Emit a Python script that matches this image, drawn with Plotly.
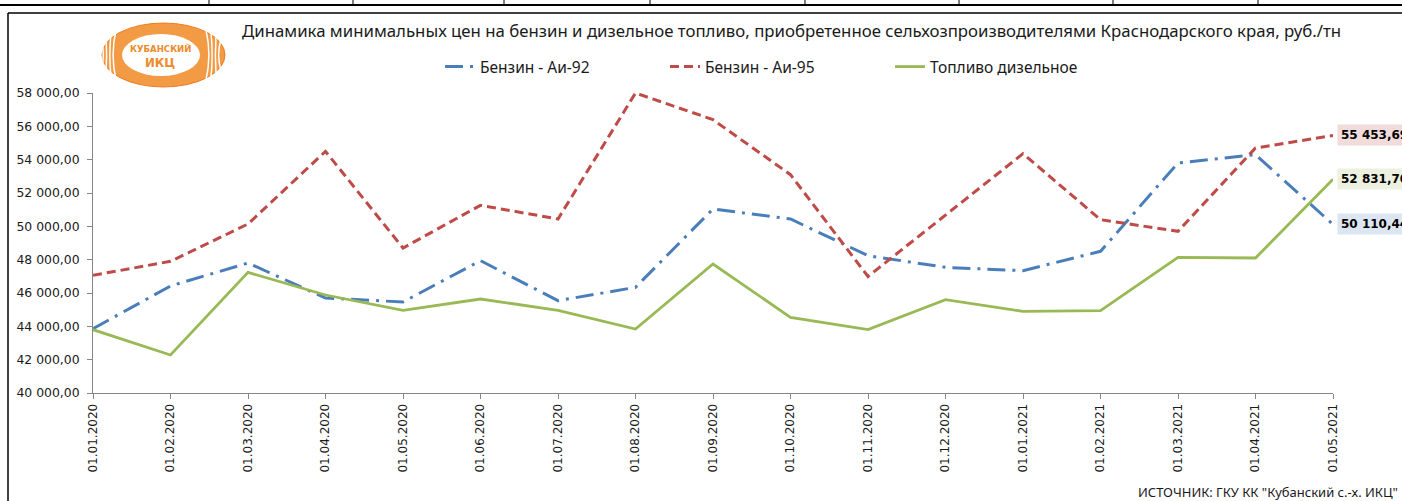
import plotly.graph_objects as go

dates = ["01.01.2020", "01.02.2020", "01.03.2020", "01.04.2020", "01.05.2020", "01.06.2020",
         "01.07.2020", "01.08.2020", "01.09.2020", "01.10.2020", "01.11.2020", "01.12.2020",
         "01.01.2021", "01.02.2021", "01.03.2021", "01.04.2021", "01.05.2021"]

ai92 = [43860, 46420, 47800, 45700, 45460, 47940, 45540, 46340, 51040, 50440, 48240, 47540,
        47340, 48500, 53800, 54300, 50110.44]
ai95 = [47060, 47900, 50140, 54500, 48700, 51260, 50440, 58000, 56400, 53100, 46990, 50700,
        54360, 50400, 49700, 54700, 55453.69]
diesel = [43800, 42280, 47240, 45880, 44960, 45640, 44960, 43840, 47740, 44540, 43800, 45600,
          44900, 44940, 48140, 48100, 52831.70]

series_names = ["Бензин - Аи-92", "Бензин - Аи-95", "Топливо дизельное"]
end_labels = ["50 110,44", "55 453,69", "52 831,70"]

y_ticks = [40000, 42000, 44000, 46000, 48000, 50000, 52000, 54000, 56000, 58000]
y_ticktext = ["40 000,00", "42 000,00", "44 000,00", "46 000,00", "48 000,00",
              "50 000,00", "52 000,00", "54 000,00", "56 000,00", "58 000,00"]

title_text = ("Динамика минимальных цен на бензин и дизельное топливо, приобретенное "
              "сельхозпроизводителями Краснодарского края, руб./тн")
source_text = 'ИСТОЧНИК: ГКУ КК "Кубанский с.-х. ИКЦ"'

W, H = 1402, 501
ML, MR, MT, MB = 93, 69, 93, 108
PW = W - ML - MR
PH = H - MT - MB


def px(x):
    return (x - ML) / PW


def py(y):
    return (H - MB - y) / PH


xs = list(range(len(dates)))
colors = ["#4a7ebb", "#be4b48", "#98b954"]
dashes = ["18px,7px,3px,7px", "9px,5px", "solid"]
widths = [3, 3, 2.8]
data = [ai92, ai95, diesel]
bg = ["#dce6f2", "#f2dcdb", "#ebf1de"]

fig = go.Figure()
for name, vals, c, d, w in zip(series_names, data, colors, dashes, widths):
    fig.add_trace(go.Scatter(x=xs, y=vals, mode="lines", name=name,
                             line=dict(color=c, dash=d, width=w),
                             hoverinfo="skip"))

annotations = []
for vals, lab, b in zip(data, end_labels, bg):
    annotations.append(dict(x=xs[-1], y=vals[-1], xref="x", yref="y", text="<b>" + lab + "</b>",
                            showarrow=False, xanchor="left", yanchor="middle", xshift=4,
                            bgcolor=b, borderpad=3,
                            font=dict(family="DejaVu Sans", size=12, color="#000000"),
                            ))

# title
annotations.append(dict(x=px(791), y=py(31), xref="paper", yref="paper", text=title_text,
                        showarrow=False, xanchor="center", yanchor="middle",
                        font=dict(family="Noto Sans", size=16.8, color="#1a1a1a")))
# source
annotations.append(dict(x=px(1400), y=py(492), xref="paper", yref="paper", text=source_text,
                        showarrow=False, xanchor="right", yanchor="middle",
                        font=dict(family="Noto Sans", size=13, color="#1a1a1a")))
# logo text
annotations.append(dict(x=px(160), y=py(48), xref="paper", yref="paper", text="<b>КУБАНСКИЙ</b>",
                        showarrow=False, xanchor="center", yanchor="middle",
                        font=dict(family="DejaVu Sans Condensed, DejaVu Sans", size=9.5, color="#ee8a2a")))
annotations.append(dict(x=px(160), y=py(63), xref="paper", yref="paper", text="<b>ИКЦ</b>",
                        showarrow=False, xanchor="center", yanchor="middle",
                        font=dict(family="DejaVu Sans Condensed, DejaVu Sans", size=13, color="#ee8a2a")))

shapes = []
# frame lines
shapes.append(dict(type="line", xref="paper", yref="paper", x0=px(0), x1=px(W), y0=py(5), y1=py(5),
                   line=dict(color="#000000", width=2)))
shapes.append(dict(type="line", xref="paper", yref="paper", x0=px(8), x1=px(W), y0=py(13), y1=py(13),
                   line=dict(color="#000000", width=1.5)))
shapes.append(dict(type="line", xref="paper", yref="paper", x0=px(8), x1=px(8), y0=py(13), y1=py(H),
                   line=dict(color="#000000", width=1.5)))
for sx in [209, 353, 504, 650, 805, 959, 1113, 1258]:
    shapes.append(dict(type="line", xref="paper", yref="paper", x0=px(sx), x1=px(sx), y0=py(0), y1=py(5),
                       line=dict(color="#000000", width=1)))
# logo
shapes.append(dict(type="circle", xref="paper", yref="paper", x0=px(102), x1=px(225), y0=py(87), y1=py(23),
                   fillcolor="#f39a45", line=dict(color="#ec7d22", width=1)))
shapes.append(dict(type="circle", xref="paper", yref="paper", x0=px(122), x1=px(200), y0=py(76), y1=py(34),
                   fillcolor="#ffffff", line=dict(width=0)))
for k in range(4):
    off = 6 + k * 5
    shapes.append(dict(type="path", xref="paper", yref="paper",
                       path=f"M {px(122 - off)},{py(30 + k * 3)} Q {px(112 - off * 0.3)},{py(55)} {px(122 - off)},{py(80 - k * 3)}",
                       line=dict(color="#ffffff", width=1.5)))
    shapes.append(dict(type="path", xref="paper", yref="paper",
                       path=f"M {px(200 + off)},{py(30 + k * 3)} Q {px(210 + off * 0.3)},{py(55)} {px(200 + off)},{py(80 - k * 3)}",
                       line=dict(color="#ffffff", width=1.5)))

fig.update_layout(
    width=W, height=H,
    margin=dict(l=ML, r=MR, t=MT, b=MB, pad=0),
    paper_bgcolor="#ffffff", plot_bgcolor="#ffffff",
    showlegend=True,
    legend=dict(orientation="h", x=px(440), y=py(67), xanchor="left", yanchor="middle",
                entrywidth=180, entrywidthmode="pixels", itemwidth=30,
                font=dict(family="Noto Sans", size=15.5, color="#1a1a1a"),
                bgcolor="rgba(0,0,0,0)", traceorder="normal"),
    xaxis=dict(range=[0, 16], tickvals=xs, ticktext=dates, tickangle=-90,
               showgrid=False, zeroline=False, showline=True, linecolor="#868686", linewidth=1,
               ticks="outside", ticklen=5, tickcolor="#868686",
               tickfont=dict(family="DejaVu Sans", size=12, color="#1a1a1a"), fixedrange=True),
    yaxis=dict(range=[40000, 58000], tickvals=y_ticks, ticktext=y_ticktext,
               showgrid=False, zeroline=False, showline=True, linecolor="#868686", linewidth=1,
               ticks="outside", ticklen=5, tickcolor="#868686", ticklabelstandoff=5,
               tickfont=dict(family="DejaVu Sans", size=12.4, color="#1a1a1a"), fixedrange=True),
    annotations=annotations,
    shapes=shapes,
)

fig.write_html("out.html", config={"displayModeBar": False},
               post_script="document.body.style.margin='0';document.body.style.overflow='hidden';")
